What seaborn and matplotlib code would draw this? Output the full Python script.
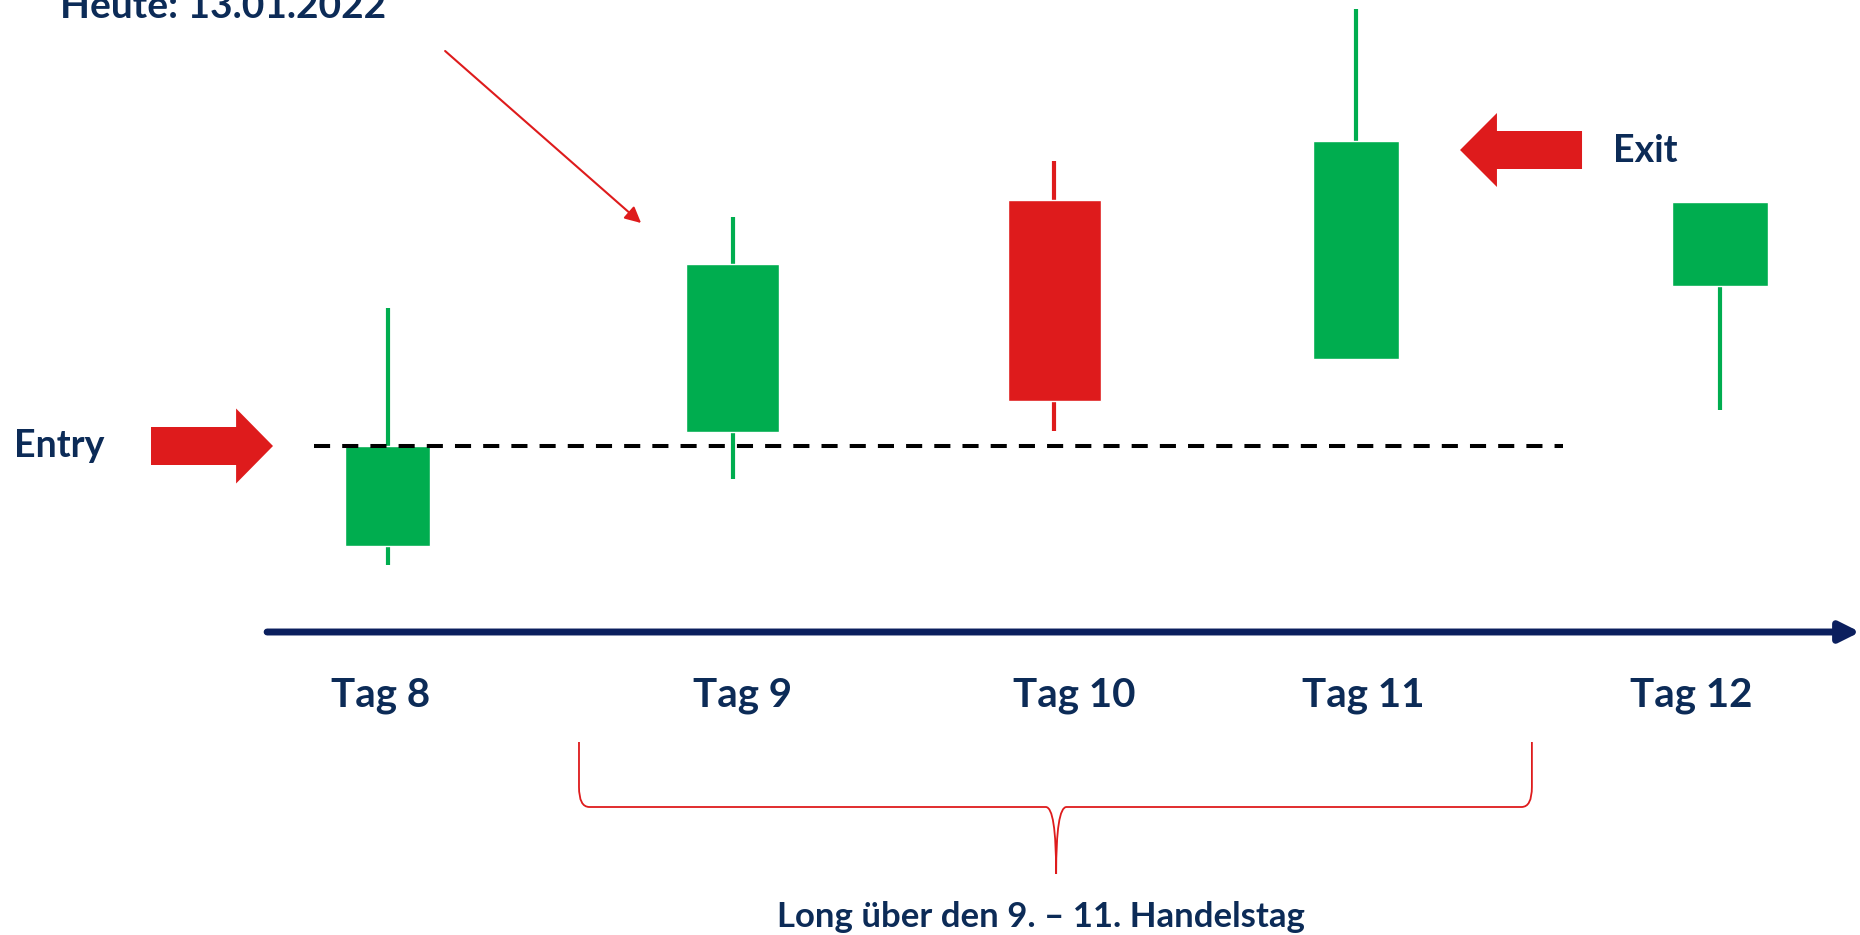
import matplotlib
matplotlib.use("Agg")
import matplotlib.pyplot as plt
from matplotlib.patches import FancyArrow, PathPatch
from matplotlib.path import Path
import pandas as pd
import seaborn as sns

# Kerzen (Tag 8 - 12), Preise in willkuerlichen Einheiten, Entry = 100
tage = ["Tag 8", "Tag 9", "Tag 10", "Tag 11", "Tag 12"]
x_pos = [8.0, 9.0, 9.933, 10.807, 11.862]
label_pos = [7.981, 9.03, 9.99, 10.828, 11.778]
open_ = [90.0, 101.4, 124.6, 108.7, 116.0]
close = [100.0, 118.2, 104.5, 130.5, 124.4]
high = [113.8, 122.9, 128.5, 143.7, 124.4]
low = [88.1, 96.7, 101.5, 108.7, 103.6]
entry_level = 100.0
exit_level = 129.6

GREEN = "#00AD4F"
RED = "#DE1B1C"
NAVY = "#0C2B57"
AXIS = "#0B1F5E"

sns.set_theme(style="white")
plt.rcParams["font.family"] = ["Lato", "DejaVu Sans"]

fig = plt.figure(figsize=(18.6, 9.35), dpi=100)
ax = fig.add_axes([0, 0, 1, 1])
ax.set_xlim(6.8768, 12.268)
ax.set_ylim(51.1, 144.6)
ax.axis("off")

# Dochte
rows = []
for t, x, h, l, o, c in zip(tage, x_pos, high, low, open_, close):
    d = "up" if c >= o else "down"
    rows.append({"tag": t, "x": x, "price": h, "dir": d})
    rows.append({"tag": t, "x": x, "price": l, "dir": d})
wicks = pd.DataFrame(rows)
sns.lineplot(data=wicks, x="x", y="price", units="tag", estimator=None,
             hue="dir", palette={"up": GREEN, "down": RED}, lw=3,
             sort=False, legend=False, ax=ax, zorder=2,
             solid_capstyle="butt")

# Kerzenkoerper
body_w = [0.246, 0.27, 0.27, 0.249, 0.278]
colors = [GREEN if c >= o else RED for o, c in zip(open_, close)]
ax.bar(x_pos, [abs(c - o) for o, c in zip(open_, close)],
       bottom=[min(o, c) for o, c in zip(open_, close)],
       width=body_w, color=colors, zorder=3)

# Entry-Linie
ax.plot([7.787, 11.407], [entry_level, entry_level], color="black",
        lw=2.9, dashes=(4, 3), zorder=4)

# Zeitachse
ax.annotate("", xy=(12.268, 81.4), xytext=(7.651, 81.4),
            arrowprops=dict(arrowstyle="-|>", lw=5, color=AXIS,
                            mutation_scale=30, shrinkA=0, shrinkB=0))
for lab, x in zip(tage, label_pos):
    ax.text(x, 73.9, lab, ha="center", va="baseline", fontsize=29,
            fontweight="bold", color=NAVY)

# Blockpfeile
ax.add_patch(FancyArrow(7.3145, entry_level, 0.3536, 0, width=3.8,
                        head_width=7.5, head_length=0.107,
                        length_includes_head=True, color=RED, lw=0))
ax.add_patch(FancyArrow(11.4623, exit_level, -0.3536, 0, width=3.8,
                        head_width=7.4, head_length=0.107,
                        length_includes_head=True, color=RED, lw=0))
ax.text(6.918, 98.9, "Entry", ha="left", va="baseline", fontsize=27,
        fontweight="bold", color=NAVY)
ax.text(11.552, 128.4, "Exit", ha="left", va="baseline", fontsize=27,
        fontweight="bold", color=NAVY)

# Heute-Pfeil (oben angeschnitten wie im Original)
ax.text(7.051, 142.8, "Heute: 13.01.2022", ha="left", va="baseline",
        fontsize=28, fontweight="bold", color=NAVY)
ax.annotate("", xy=(8.735, 122.3), xytext=(8.167, 139.5),
            arrowprops=dict(arrowstyle="-|>", lw=1.5, color=RED,
                            mutation_scale=24, shrinkA=0, shrinkB=0))

# Geschweifte Klammer
L, R, T = 8.555, 11.317, 9.938
top, mid, tip = 70.4, 63.9, 57.2
verts = [(L, top), (L, mid + 2), (L, mid), (L + 0.03, mid),
         (T - 0.03, mid), (T, mid), (T, tip),
         (T, mid), (T + 0.03, mid),
         (R - 0.03, mid), (R, mid), (R, mid + 2), (R, top)]
codes = [Path.MOVETO, Path.LINETO, Path.CURVE3, Path.CURVE3,
         Path.LINETO, Path.CURVE3, Path.CURVE3,
         Path.CURVE3, Path.CURVE3,
         Path.LINETO, Path.CURVE3, Path.CURVE3, Path.LINETO]
ax.add_patch(PathPatch(Path(verts, codes), fill=False, ec=RED, lw=1.3))
ax.text(9.894, 51.9, "Long über den 9. – 11. Handelstag", ha="center",
        va="baseline", fontsize=25, fontweight="bold", color=NAVY)

fig.savefig("out.png", dpi=100)
